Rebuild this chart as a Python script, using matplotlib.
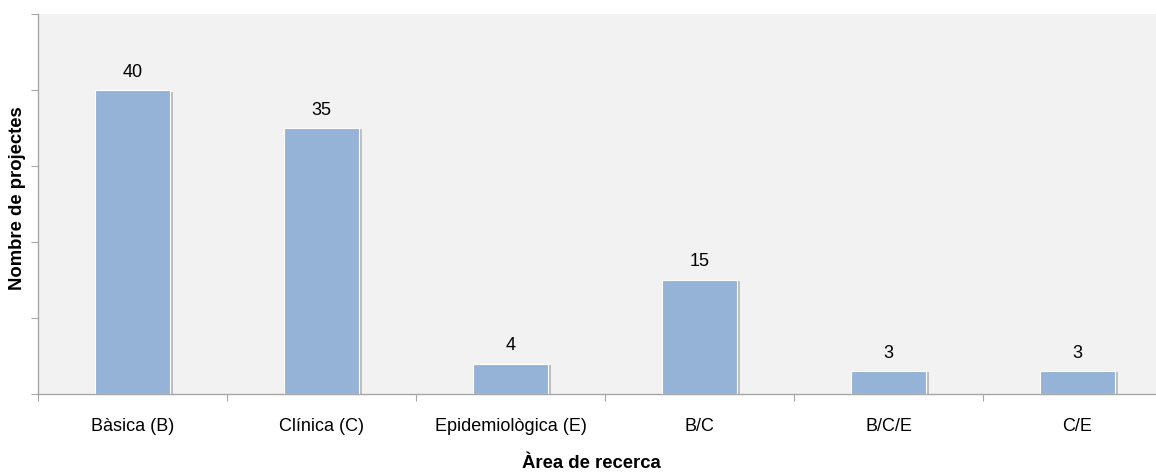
import matplotlib
matplotlib.use("Agg")
import matplotlib.pyplot as plt
import matplotlib.patheffects as pe
import numpy as np

areas = ["Bàsica (B)", "Clínica (C)", "Epidemiològica (E)", "B/C", "B/C/E", "C/E"]
projectes = [40, 35, 4, 15, 3, 3]

plt.rcParams["font.family"] = ["Liberation Sans", "DejaVu Sans"]

fig = plt.figure(figsize=(11.56, 4.73), dpi=100)
# axes run slightly past the right edge of the figure
ax = fig.add_axes([38 / 1156, 1 - 394 / 473, 1134 / 1156, 379.5 / 473])
ax.set_facecolor("#F2F2F2")

x = np.arange(len(areas))
bars = ax.bar(x, projectes, width=0.4, color="#95B3D7", edgecolor="white",
              linewidth=0.8, zorder=3)
for b in bars:
    b.set_path_effects([pe.SimplePatchShadow(offset=(1.8, -0.8), shadow_rgbFace="#7f7f7f", alpha=0.45),
                        pe.Normal()])

for xi, v in zip(x, projectes):
    ax.annotate(str(v), (xi, v), xytext=(0, 7), textcoords="offset points",
                ha="center", va="bottom", fontsize=13, color="#000000")

ax.set_xlim(-0.5, len(areas) - 0.5)
ax.set_ylim(0, 50)

# category labels sit between the boundary ticks
ax.set_xticks(np.arange(len(areas) + 1) - 0.5)
ax.set_xticklabels([])
ax.set_xticks(x, minor=True)
ax.set_xticklabels(areas, minor=True, fontsize=13)
ax.tick_params(axis="x", which="minor", length=0, pad=17)
ax.tick_params(axis="x", which="major", length=5, color="#A6A6A6", direction="out")

ax.set_yticks([0, 10, 20, 30, 40, 50])
ax.set_yticklabels([])
ax.tick_params(axis="y", length=5, color="#A6A6A6", direction="out")

for s in ["top", "right"]:
    ax.spines[s].set_visible(False)
for s in ["left", "bottom"]:
    ax.spines[s].set_color("#A6A6A6")
    ax.spines[s].set_linewidth(1.0)

fig.text(18 / 1156, 1 - 198 / 473, "Nombre de projectes", rotation=90,
         ha="center", va="center", fontsize=13.3, fontweight="bold")
fig.text(591 / 1156, 1 - 463 / 473, "Àrea de recerca",
         ha="center", va="center", fontsize=13.3, fontweight="bold")

fig.savefig("out.png", dpi=100)
